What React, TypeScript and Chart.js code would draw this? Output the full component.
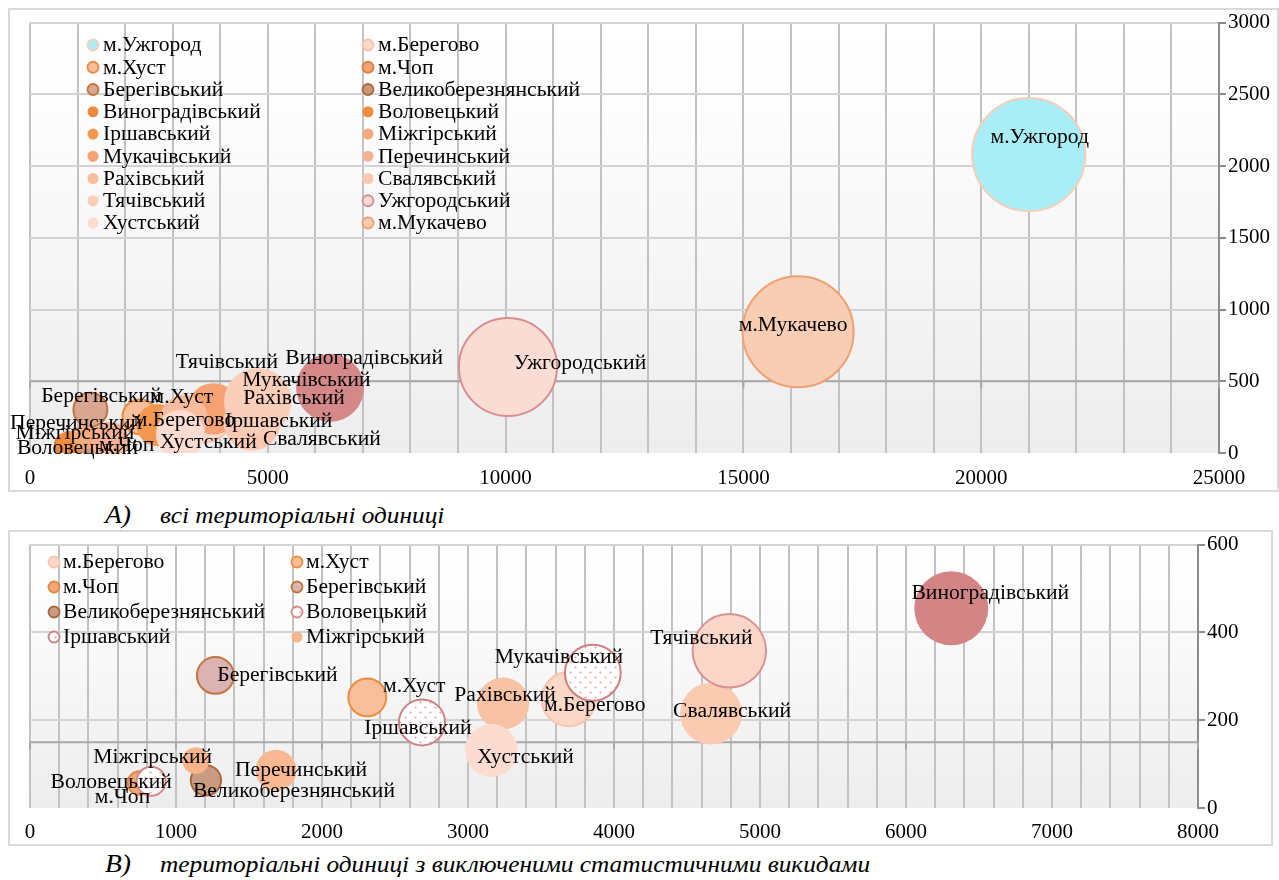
import React, { useEffect, useRef } from 'react';
import { Chart, registerables } from 'chart.js';

Chart.register(...registerables);

// ---------- data ----------
const unitNames = [
  'м.Ужгород', 'м.Берегово', 'м.Хуст', 'м.Чоп', 'Берегівський', 'Великоберезнянський',
  'Виноградівський', 'Воловецький', 'Іршавський', 'Міжгірський', 'Мукачівський', 'Перечинський',
  'Рахівський', 'Свалявський', 'Тячівський', 'Ужгородський', 'Хустський', 'м.Мукачево',
];
const xValues = [21000, 3690, 2310, 750, 1270, 1205, 6310, 830, 2685, 1135, 3855, 1685, 3240, 4665, 4790, 10050, 3160, 16150];
const yValues = [2080, 248, 252, 57, 302, 63, 455, 61, 195, 108, 308, 86, 238, 215, 358, 600, 131, 845];
const bubbleSizes = [380, 73, 36, 14, 34, 23, 137, 21, 53, 18, 78, 42, 68, 96, 135, 285, 70, 365];

// chart B: units without the statistical outliers (series order of chart B)
const unitsB = [
  'м.Берегово', 'м.Хуст', 'м.Чоп', 'Берегівський', 'Великоберезнянський', 'Воловецький',
  'Іршавський', 'Міжгірський', 'Мукачівський', 'Перечинський', 'Рахівський', 'Свалявський',
  'Тячівський', 'Хустський', 'Виноградівський',
];
const legendUnitsB = unitsB.slice(0, 8);

const xMaxA = 25000, xMinorA = 1000, xLabelStepA = 5000, yMaxA = 3000, yStepA = 500, crossA = 500;
const xMaxB = 8000, xMinorB = 200, xLabelStepB = 1000, yMaxB = 600, yStepB = 200, crossB = 150;

const captionA = ['A)', 'всі територіальні одиниці'];
const captionB = ['B)', 'територіальні одиниці з виключеними статистичними викидами'];

// ---------- styles ----------
const FONT = '"Liberation Serif", "Times New Roman", serif';
const TEXT_STRETCH = 1.08;
type St = { fill: string; border?: string; legend?: string };
const styleA: Record<string, St> = {
  'м.Ужгород': { fill: '#a9eef7', border: '#f6cdb8' },
  'м.Берегово': { fill: '#fbd9cb', border: '#f6c4ae' },
  'м.Хуст': { fill: '#f9bf9c', border: '#ee8a3c' },
  'м.Чоп': { fill: '#eea476', border: '#de7d3c' },
  'Берегівський': { fill: '#d9a790', border: '#c27440' },
  'Великоберезнянський': { fill: '#c9987b', border: '#a9693a' },
  'Виноградівський': { fill: '#d48888', legend: '#ef8b40' },
  'Воловецький': { fill: '#f08c3e' },
  'Іршавський': { fill: '#f5984f' },
  'Міжгірський': { fill: '#f6ab7e' },
  'Мукачівський': { fill: '#f6a274' },
  'Перечинський': { fill: '#f7b291' },
  'Рахівський': { fill: '#f8bc9e' },
  'Свалявський': { fill: '#fac8b0' },
  'Тячівський': { fill: '#fbceba' },
  'Ужгородський': { fill: '#fbdcd4', border: '#d78e8e' },
  'Хустський': { fill: '#fcdcd0' },
  'м.Мукачево': { fill: '#f9cdb4', border: '#f0a070' },
};
const styleB: Record<string, St> = {
  'м.Берегово': { fill: '#fbd7c7', border: '#f6c6b0' },
  'м.Хуст': { fill: '#f9bf9b', border: '#ef8d3e' },
  'м.Чоп': { fill: '#f1a676', border: '#e08840' },
  'Берегівський': { fill: '#dcb3b3', border: '#c0753c' },
  'Великоберезнянський': { fill: '#c99b82', border: '#a8683a' },
  'Воловецький': { fill: 'pattern', border: '#d68a8a' },
  'Іршавський': { fill: 'pattern', border: '#d08080' },
  'Міжгірський': { fill: '#f6b48a' },
  'Мукачівський': { fill: 'pattern', border: '#d08080' },
  'Перечинський': { fill: '#f8b892' },
  'Рахівський': { fill: '#f8c3a5' },
  'Свалявський': { fill: '#fbcbb1' },
  'Тячівський': { fill: '#fad6c8', border: '#d99292' },
  'Хустський': { fill: '#fcdcd1' },
  'Виноградівський': { fill: '#d38585' },
};
const labelOffsetA: Record<string, [number, number] | null> = {
  'м.Ужгород': [11, -17], 'м.Мукачево': [-5, -6], 'Ужгородський': [72, -3], 'Виноградівський': [34, -29],
  'Тячівський': [-31, -39], 'Мукачівський': [93, -28], 'Рахівський': [110, -20], 'Іршавський': [121, -3],
  'Свалявський': [70, 18], 'Хустський': [28, 9], 'м.Хуст': [42, -19], 'м.Берегово': [-21, 3],
  'Берегівський': [11, -13], 'Перечинський': [-34, -17], 'Міжгірський': [-9, -4], 'Воловецький': [8, 5],
  'м.Чоп': [61, 1], 'Великоберезнянський': null,
};
const labelOffsetB: Record<string, [number, number] | null> = {
  'Виноградівський': [39, -15], 'Тячівський': [-28, -12], 'Свалявський': [21, -2], 'Мукачівський': [-34, -15],
  'м.Берегово': [26, 7], 'Рахівський': [2, -8], 'м.Хуст': [47, -11], 'Іршавський': [-4, 6],
  'Хустський': [34, 7], 'Берегівський': [62, 0], 'Перечинський': [25, 1], 'Великоберезнянський': [88, 11],
  'Міжгірський': [-43, -3], 'Воловецький': [-40, 2], 'м.Чоп': [-17, 15],
};

// ---------- plugins ----------
const plotBg = {
  id: 'plotBg',
  beforeDraw(chart: any) {
    const { ctx, chartArea } = chart;
    if (!chartArea) return;
    const { left, top, right, bottom } = chartArea;
    const g = ctx.createLinearGradient(0, top, 0, bottom);
    g.addColorStop(0, '#ffffff');
    g.addColorStop(0.2, '#fdfdfd');
    g.addColorStop(1, '#ededed');
    ctx.save();
    ctx.fillStyle = g;
    ctx.fillRect(left, top, right - left, bottom - top);
    ctx.restore();
  },
};

const crossLine = {
  id: 'crossLine',
  beforeDatasetsDraw(chart: any, _a: any, opts: any) {
    const { ctx, chartArea, scales } = chart;
    const y = scales.y.getPixelForValue(opts.value);
    ctx.save();
    ctx.strokeStyle = '#a8a8a8';
    ctx.lineWidth = 2;
    ctx.beginPath();
    ctx.moveTo(chartArea.left, y);
    ctx.lineTo(chartArea.right, y);
    for (let v = 0; v <= opts.max; v += opts.step) {
      const x = scales.x.getPixelForValue(v);
      ctx.moveTo(x, y);
      ctx.lineTo(x, y + 7);
    }
    ctx.stroke();
    ctx.restore();
  },
};

function stretchedText(ctx: CanvasRenderingContext2D, text: string, x: number, y: number) {
  ctx.save();
  ctx.translate(x, y);
  ctx.scale(TEXT_STRETCH, 1);
  ctx.fillText(text, 0, 0);
  ctx.restore();
}

const bubbleLabels = {
  id: 'bubbleLabels',
  afterDatasetsDraw(chart: any, _a: any, opts: any) {
    const { ctx } = chart;
    ctx.save();
    ctx.font = `20px ${FONT}`;
    ctx.fillStyle = '#000';
    ctx.textAlign = 'center';
    ctx.textBaseline = 'middle';
    chart.data.datasets.forEach((ds: any, i: number) => {
      const off = opts.offsets[ds.label];
      if (!off) return;
      const el = chart.getDatasetMeta(i).data[0];
      if (!el) return;
      stretchedText(ctx, ds.label, el.x + off[0], el.y + off[1]);
    });
    ctx.restore();
  },
};

const innerLegend = {
  id: 'innerLegend',
  afterDatasetsDraw(chart: any, _a: any, opts: any) {
    const { ctx } = chart;
    ctx.save();
    ctx.font = `20px ${FONT}`;
    ctx.textAlign = 'left';
    ctx.textBaseline = 'middle';
    opts.items.forEach((it: any, i: number) => {
      const col = opts.cols[i % opts.cols.length];
      const y = opts.y0 + Math.floor(i / opts.cols.length) * opts.rowH;
      ctx.beginPath();
      ctx.arc(col[0], y, 5.5, 0, Math.PI * 2);
      ctx.fillStyle = it.fill;
      ctx.fill();
      if (it.border) {
        ctx.lineWidth = 1.8;
        ctx.strokeStyle = it.border;
        ctx.stroke();
      }
      ctx.fillStyle = '#000';
      stretchedText(ctx, it.text, col[1], y + 1);
    });
    ctx.restore();
  },
};

function makeDotPattern(ctx: CanvasRenderingContext2D) {
  const tile = document.createElement('canvas');
  tile.width = 10;
  tile.height = 10;
  const t = tile.getContext('2d')!;
  t.fillStyle = '#ffffff';
  t.fillRect(0, 0, 10, 10);
  t.fillStyle = '#f0a4a4';
  [[2.5, 2.5], [7.5, 7.5]].forEach(([x, y]) => {
    t.beginPath();
    t.arc(x, y, 1.1, 0, Math.PI * 2);
    t.fill();
  });
  return ctx.createPattern(tile, 'repeat');
}

type Cfg = {
  units: string[];
  styles: Record<string, St>;
  offsets: Record<string, [number, number] | null>;
  legendUnits: string[];
  k: number;
  xMax: number; xMinor: number; xLabelStep: number;
  yMax: number; yStep: number; cross: number;
  pad: { left: number; top: number };
  yWidth: number; xHeight: number; xPad: number;
  legendCols: [number, number][]; legendY0: number; legendRowH: number;
};

function buildChart(canvas: HTMLCanvasElement, c: Cfg) {
  const ctx = canvas.getContext('2d')!;
  const pattern = makeDotPattern(ctx);
  const n = c.units.length;
  const datasets = c.units.map((name, idx) => {
    const i = unitNames.indexOf(name);
    const st = c.styles[name];
    const fill = st.fill === 'pattern' ? pattern : st.fill;
    return {
      label: name,
      data: [{ x: xValues[i], y: yValues[i], r: c.k * Math.sqrt(bubbleSizes[i]) }],
      backgroundColor: fill,
      borderColor: st.border ?? st.fill,
      borderWidth: st.border ? 2 : 0,
      order: n - idx,
    };
  });
  const legendItems = c.legendUnits.map((name) => {
    const st = c.styles[name];
    return {
      text: name,
      fill: st.fill === 'pattern' ? pattern : (st.legend ?? st.fill),
      border: st.legend ? undefined : st.border,
    };
  });
  const font = { family: FONT, size: 21 };
  return new Chart(ctx, {
    type: 'bubble',
    data: { datasets } as any,
    plugins: [plotBg, crossLine, bubbleLabels, innerLegend],
    options: {
      responsive: true,
      maintainAspectRatio: false,
      animation: false,
      layout: { autoPadding: false, padding: { left: c.pad.left, top: c.pad.top, right: 0, bottom: 0 } },
      plugins: {
        legend: { display: false },
        tooltip: { enabled: false },
        crossLine: { value: c.cross, max: c.xMax, step: c.xLabelStep },
        bubbleLabels: { offsets: c.offsets },
        innerLegend: { items: legendItems, cols: c.legendCols, y0: c.legendY0, rowH: c.legendRowH },
      } as any,
      scales: {
        x: {
          type: 'linear',
          min: 0,
          max: c.xMax,
          ticks: {
            stepSize: c.xMinor,
            autoSkip: false,
            maxRotation: 0,
            color: '#000',
            font,
            padding: c.xPad,
            callback: (v: any) => (Number(v) % c.xLabelStep === 0 ? String(v) : ''),
          },
          grid: { color: '#c2c2c2', lineWidth: 2, drawTicks: false },
          border: { display: false },
          afterFit: (s: any) => { s.height = c.xHeight; },
        },
        y: {
          type: 'linear',
          position: 'right',
          min: 0,
          max: c.yMax,
          ticks: { stepSize: c.yStep, color: '#000', font, padding: 2, callback: (v: any) => String(v) },
          grid: {
            color: (g: any) => (g.tick && g.tick.value === 0 ? 'rgba(0,0,0,0)' : '#d3d3d3'),
            lineWidth: 2,
            tickColor: '#8c8c8c',
            tickLength: 7,
          },
          border: { color: '#8c8c8c', width: 2 },
          afterFit: (s: any) => { s.width = c.yWidth; },
        },
      } as any,
    },
  });
}

const cfgA: Cfg = {
  units: unitNames, styles: styleA, offsets: labelOffsetA, legendUnits: unitNames,
  k: 34 / Math.sqrt(137),
  xMax: xMaxA, xMinor: xMinorA, xLabelStep: xLabelStepA, yMax: yMaxA, yStep: yStepA, cross: crossA,
  pad: { left: 22, top: 10 }, yWidth: 60, xHeight: 39, xPad: 13,
  legendCols: [[85, 95], [360, 370]], legendY0: 37, legendRowH: 22.25,
};
const cfgB: Cfg = {
  units: unitsB, styles: styleB, offsets: labelOffsetB, legendUnits: legendUnitsB,
  k: 37 / Math.sqrt(137),
  xMax: xMaxB, xMinor: xMinorB, xLabelStep: xLabelStepB, yMax: yMaxB, yStep: yStepB, cross: crossB,
  pad: { left: 22, top: 13 }, yWidth: 75, xHeight: 38, xPad: 12,
  legendCols: [[46, 55], [289, 298]], legendY0: 32, legendRowH: 25,
};

function BubbleChart({ cfg, box }: { cfg: Cfg; box: { left: number; top: number; width: number; height: number } }) {
  const ref = useRef<HTMLCanvasElement>(null);
  useEffect(() => {
    if (!ref.current) return;
    const ch = buildChart(ref.current, cfg);
    let alive = true;
    const fonts = (document as any).fonts;
    if (fonts && fonts.load) {
      fonts.load(`20px "Liberation Serif"`, 'мУжгород0123')
        .then(() => { if (alive) ch.update(); })
        .catch(() => {});
    }
    return () => { alive = false; ch.destroy(); };
  }, [cfg]);
  return (
    <>
      <div style={{ position: 'absolute', left: box.left, top: box.top, width: box.width, height: box.height }}>
        <canvas ref={ref} />
      </div>
      <div
        style={{
          position: 'absolute', left: box.left, top: box.top, width: box.width, height: box.height,
          border: '2px solid #d9d9d9', boxSizing: 'border-box', pointerEvents: 'none',
        }}
      />
    </>
  );
}

function Caption({ parts, top }: { parts: string[]; top: number }) {
  const base: React.CSSProperties = {
    position: 'absolute', fontFamily: FONT, fontStyle: 'italic', whiteSpace: 'nowrap',
    transform: 'scaleX(1.1)', transformOrigin: 'left center',
  };
  return (
    <>
      <div style={{ ...base, left: 105, top: top - 3, fontSize: 25, lineHeight: '30px' }}>{parts[0]}</div>
      <div style={{ ...base, left: 160, top, fontSize: 23, lineHeight: '26px' }}>{parts[1]}</div>
    </>
  );
}

export default function App() {
  return (
    <div style={{ position: 'absolute', left: 0, top: 0, width: 1279, height: 880, overflow: 'hidden', background: '#fff' }}>
      <BubbleChart cfg={cfgA} box={{ left: 8, top: 8, width: 1271, height: 484 }} />
      <Caption parts={captionA} top={503} />
      <BubbleChart cfg={cfgB} box={{ left: 8, top: 530, width: 1265, height: 316 }} />
      <Caption parts={captionB} top={852} />
    </div>
  );
}
